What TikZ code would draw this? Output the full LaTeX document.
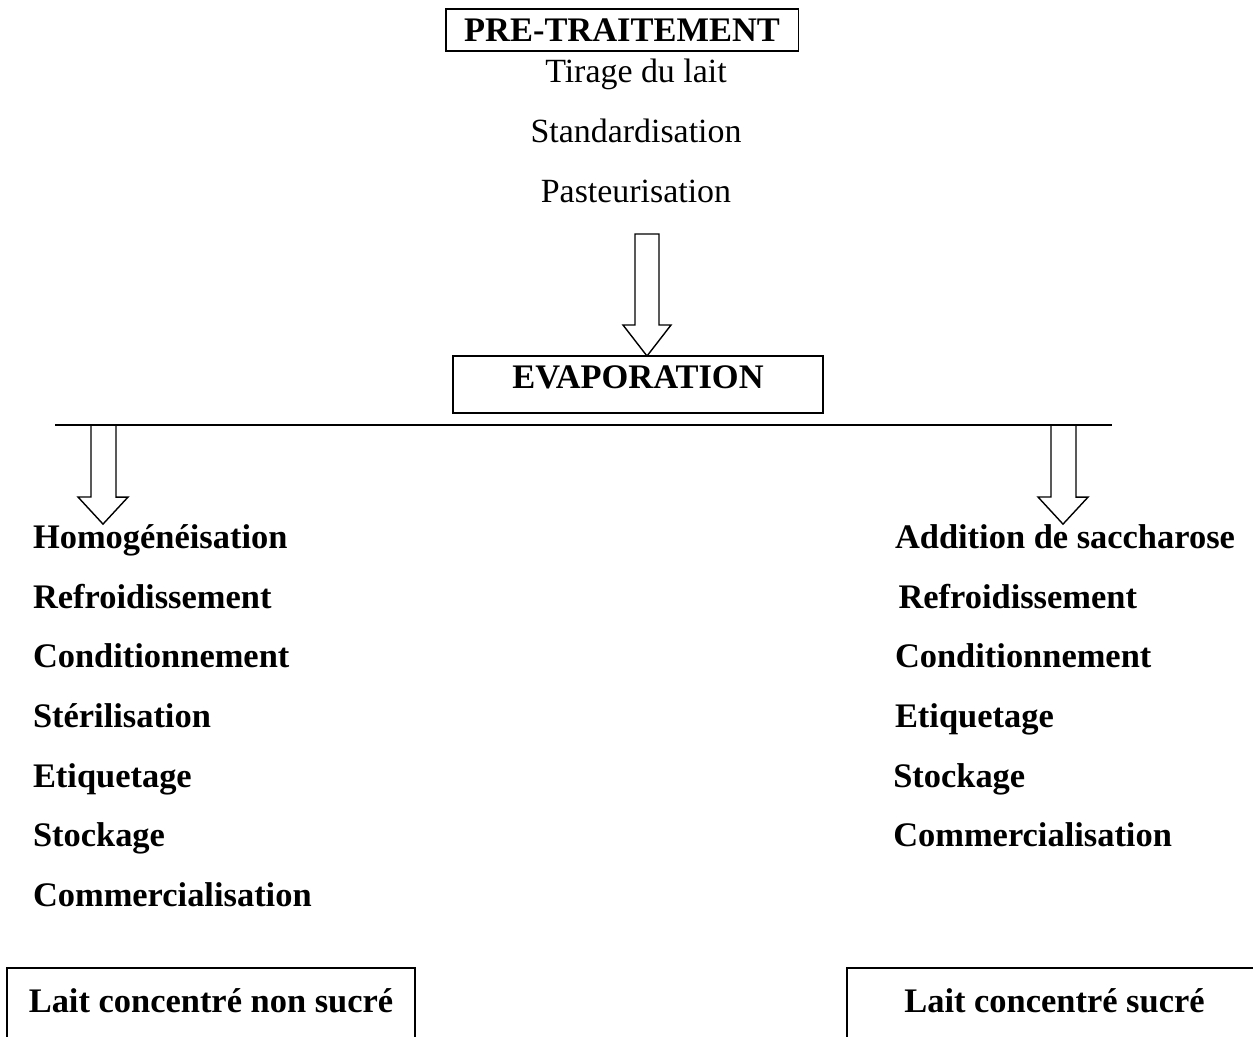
\documentclass[tikz,border=0pt]{standalone}
\usepackage{fontspec}
\setmainfont{Liberation Serif}
\usepackage{tikz}
\usetikzlibrary{positioning,calc}

\begin{document}
\begin{tikzpicture}[x=0.02cm, y=-0.02cm,
    etape/.style={inner sep=0pt, outer sep=0pt, font=\fontsize{19.3}{23}\selectfont},
    etapeg/.style={inner sep=0pt, outer sep=0pt, font=\fontsize{19.6}{23}\selectfont\bfseries},
    boite/.style={draw, line width=1.1pt, inner sep=0pt, outer sep=0pt, font=\fontsize{19.6}{23}\selectfont\bfseries},
    fleche/.style={draw, line width=0.8pt, line join=miter}]
    \useasboundingbox (0,0) rectangle (1253,1036);
    \clip (0,0) rectangle (1253,1036);

    % noeuds du haut
    \node [boite, minimum width=7.06cm, minimum height=0.84cm] (pretrait) at (622,30) {PRE-TRAITEMENT};
    \node [etape, anchor=base] (tirage) at (636,82) {Tirage du lait};
    \node [etape, below=1.22cm of tirage.base, anchor=base] (standard) {Standardisation};
    \node [etape, below=1.2cm of standard.base, anchor=base] (pasteur) {Pasteurisation};
    \node [boite, minimum width=7.4cm, minimum height=1.14cm, text depth=0.3cm] (evap) at (638,384.5) {EVAPORATION};

    % branche gauche
    \node [etapeg, anchor=base west] (homogG) at (33,548) {Homogénéisation};
    \node [etapeg, below=1.2cm of homogG.base west, anchor=base west] (refroidG) {Refroidissement};
    \node [etapeg, below=1.2cm of refroidG.base west, anchor=base west] (condG) {Conditionnement};
    \node [etapeg, below=1.2cm of condG.base west, anchor=base west] (sterilG) {Stérilisation};
    \node [etapeg, below=1.2cm of sterilG.base west, anchor=base west] (etiqG) {Etiquetage};
    \node [etapeg, below=1.18cm of etiqG.base west, anchor=base west] (stockG) {Stockage};
    \node [etapeg, below=1.2cm of stockG.base west, anchor=base west] (commG) {Commercialisation};

    % branche droite
    \node [etapeg, anchor=base west] (additD) at (895,548) {Addition de saccharose};
    \node [etapeg, below=1.2cm of additD.base west, anchor=base west, xshift=2pt] (refroidD) {Refroidissement};
    \node [etapeg, below=1.2cm of additD.base west, anchor=base west, yshift=-1.2cm] (condD) {Conditionnement};
    \node [etapeg, below=1.2cm of condD.base west, anchor=base west] (etiqD) {Etiquetage};
    \node [etapeg, below=1.2cm of etiqD.base west, anchor=base west, xshift=-1pt] (stockD) {Stockage};
    \node [etapeg, below=1.18cm of stockD.base west, anchor=base west] (commD) {Commercialisation};

    % produits finis
    \node [boite, minimum width=8.16cm, minimum height=1.6cm, text height=0.44cm, text depth=0.28cm, anchor=north] (nonsucre) at (211,968) {Lait concentré non sucré};
    \node [boite, minimum width=8.3cm, minimum height=1.6cm, text height=0.44cm, text depth=0.28cm, anchor=north west] (sucre) at (847,968) {Lait concentré sucré};

    % fleches
    \coordinate (flC) at (647,234);
    \coordinate (barG) at (55,425);
    \coordinate (barD) at (1112,425);
    \coordinate (flG) at (103,425);
    \coordinate (flD) at (1063,425);
    \draw [fleche] (barG) -- (barD);
    \draw [fleche] (flC) ++(-12,0) -- ++(0,91) -- ++(-12,0) -- (flC |- evap.north) -- ++(24,-31) -- ++(-12,0) -- ++(0,-91) -- cycle;
    \draw [fleche] (flG) ++(-12,0) -- ++(0,72) -- ++(-13,0) -- (flG |- homogG.north) -- ++(25,-27) -- ++(-12,0) -- ++(0,-72) -- cycle;
    \draw [fleche] (flD) ++(-12,0) -- ++(0,72) -- ++(-13,0) -- (flD |- additD.north) -- ++(25,-27) -- ++(-12,0) -- ++(0,-72) -- cycle;
\end{tikzpicture}
\end{document}
